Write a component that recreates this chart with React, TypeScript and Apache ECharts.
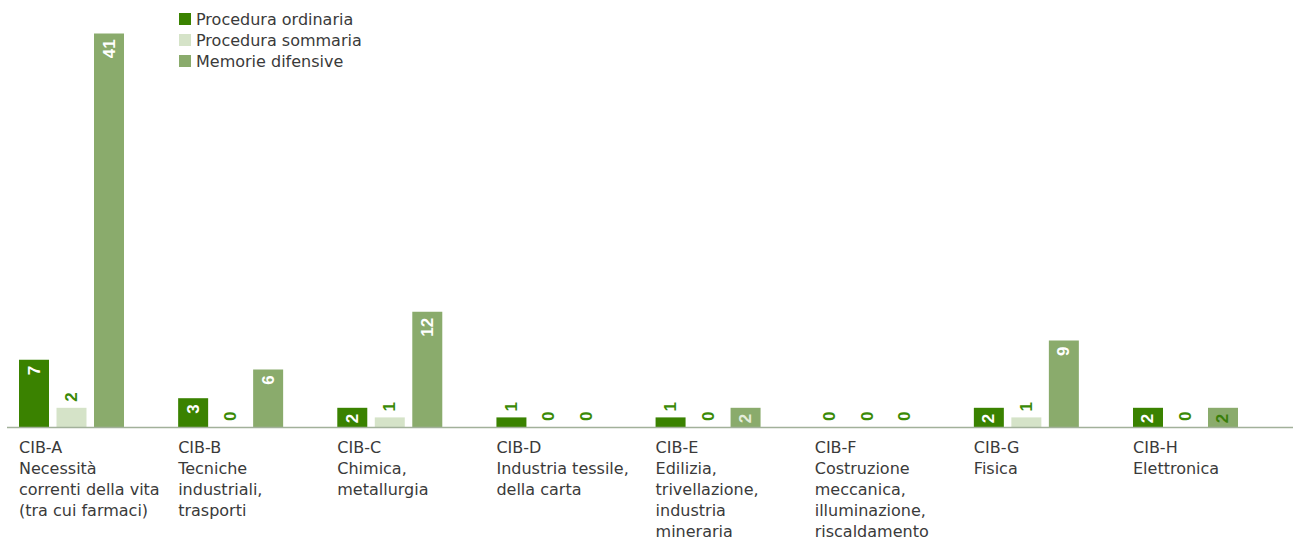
import React, { useEffect, useRef } from "react";
import * as echarts from "echarts";

const categories = [
  "CIB-A\nNecessità\ncorrenti della vita\n(tra cui farmaci)",
  "CIB-B\nTecniche\nindustriali,\ntrasporti",
  "CIB-C\nChimica,\nmetallurgia",
  "CIB-D\nIndustria tessile,\ndella carta",
  "CIB-E\nEdilizia,\ntrivellazione,\nindustria\nmineraria",
  "CIB-F\nCostruzione\nmeccanica,\nilluminazione,\nriscaldamento",
  "CIB-G\nFisica",
  "CIB-H\nElettronica",
];
const seriesNames = ["Procedura ordinaria", "Procedura sommaria", "Memorie difensive"];
const ordinaria = [7, 3, 2, 1, 1, 0, 2, 2];
const sommaria = [2, 0, 1, 0, 0, 0, 1, 0];
const memorie = [41, 6, 12, 0, 2, 0, 9, 2];

const C_ORD = "#3a8200";
const C_SOM = "#d5e3c8";
const C_MEM = "#8aab6c";
const C_LBL = "#3a8a06";
const TEXT = "#3a3a3a";
const FONT = "DejaVu Sans";
const OFF = 80; // chart div is shifted left by this many pixels

const insideLabel = (color: string) => ({
  show: true,
  position: "insideTop",
  rotate: 90,
  align: "right",
  verticalAlign: "middle",
  distance: 6,
  color,
  fontFamily: "Liberation Sans",
  fontWeight: "bold",
  fontSize: 17,
});
const aboveLabel = () => ({
  show: true,
  position: "top",
  rotate: 90,
  align: "left",
  verticalAlign: "middle",
  distance: 6,
  color: C_LBL,
  fontFamily: "Liberation Sans",
  fontWeight: "bold",
  fontSize: 17,
});

export default function App() {
  const ref = useRef<HTMLDivElement>(null);
  useEffect(() => {
    if (!ref.current) return;
    const chart = echarts.init(ref.current, undefined, { renderer: "svg" });
    const gridLeft = -8.07 + OFF;
    const gridWidth = 1273.14;
    const gridTop = 4.6;
    const gridHeight = 422.4;

    const ordData = ordinaria.map((v) => ({
      value: v,
      label: v >= 2 ? insideLabel("#ffffff") : aboveLabel(),
    }));
    const somData = sommaria.map((v) => ({ value: v, label: aboveLabel() }));
    const memData = memorie.map((v, i) => ({
      value: v,
      label: v >= 2 ? insideLabel(i === 7 ? "#3a7f0a" : i === 4 ? "#e4eddb" : "#ffffff") : aboveLabel(),
    }));

    chart.setOption({
      animation: false,
      grid: [
        { left: gridLeft, top: gridTop, width: gridWidth, height: gridHeight },
        { left: gridLeft - 52.5, top: gridTop, width: gridWidth, height: gridHeight },
      ],
      legend: {
        orient: "vertical",
        left: 174 + OFF,
        top: 6,
        padding: 5,
        itemWidth: 12,
        itemHeight: 12,
        itemGap: 5,
        icon: "rect",
        textStyle: { fontFamily: FONT, fontSize: 16, color: TEXT, lineHeight: 16 },
        data: seriesNames,
      },
      xAxis: [
        {
          type: "category",
          gridIndex: 0,
          data: categories,
          axisLine: { show: false },
          axisTick: { show: false },
          axisLabel: { show: false },
        },
        {
          type: "category",
          gridIndex: 1,
          data: categories,
          axisLine: { show: false },
          axisTick: { show: false },
          axisLabel: {
            show: true,
            interval: 0,
            align: "left",
            verticalAlign: "top",
            margin: 10,
            fontFamily: FONT,
            fontSize: 16,
            lineHeight: 21,
            color: TEXT,
          },
        },
      ],
      yAxis: [
        { type: "value", gridIndex: 0, min: 0, max: 44, show: false },
        { type: "value", gridIndex: 1, min: 0, max: 44, show: false },
      ],
      graphic: [
        {
          type: "line",
          shape: { x1: 7 + OFF, y1: 427.5, x2: 1293 + OFF, y2: 427.5 },
          style: { stroke: "#a2b19a", lineWidth: 1.5 },
          z: 100,
        },
      ],
      series: [
        {
          name: seriesNames[0],
          type: "bar",
          xAxisIndex: 0,
          yAxisIndex: 0,
          data: ordData,
          barWidth: 30,
          barGap: "25%",
          itemStyle: { color: C_ORD },
        },
        {
          name: seriesNames[1],
          type: "bar",
          xAxisIndex: 0,
          yAxisIndex: 0,
          data: somData,
          barWidth: 30,
          barGap: "25%",
          itemStyle: { color: C_SOM },
        },
        {
          name: seriesNames[2],
          type: "bar",
          xAxisIndex: 0,
          yAxisIndex: 0,
          data: memData,
          barWidth: 30,
          barGap: "25%",
          itemStyle: { color: C_MEM },
        },
      ],
    });
    return () => chart.dispose();
  }, []);
  return (
    <div style={{ position: "absolute", left: 0, top: 0, width: 1293, height: 543, overflow: "hidden" }}>
      <div
        ref={ref}
        style={{ position: "absolute", left: -OFF, top: 0, width: 1293 + OFF, height: 543 }}
      />
    </div>
  );
}
